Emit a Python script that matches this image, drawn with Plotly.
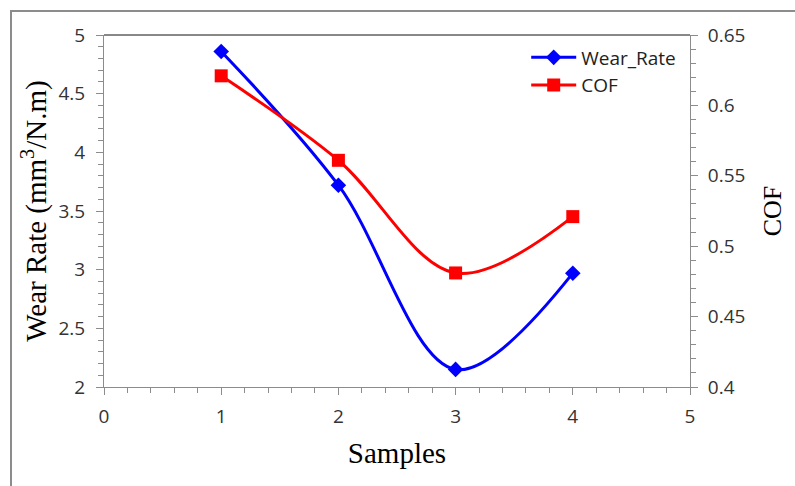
import plotly.graph_objects as go

samples = [1, 2, 3, 4]
wear_rate = [4.86, 3.72, 2.15, 2.97]
cof = [0.621, 0.561, 0.481, 0.521]

TICK_FONT = dict(family="Open Sans, Noto Sans, sans-serif", size=19, color="#333333")
TITLE_FONT = dict(family="Liberation Serif, Times New Roman, serif", size=29, color="black")
AXIS_GRAY = "#8c8c8c"

fig = go.Figure()

fig.add_trace(
    go.Scatter(
        x=samples,
        y=wear_rate,
        name="Wear_Rate",
        mode="lines+markers",
        line=dict(color="#0000ff", width=3, shape="spline", smoothing=1),
        marker=dict(symbol="diamond", size=12, color="#0000ff"),
    )
)
fig.add_trace(
    go.Scatter(
        x=samples,
        y=cof,
        name="COF",
        yaxis="y2",
        mode="lines+markers",
        line=dict(color="#ff0000", width=3, shape="spline", smoothing=1),
        marker=dict(symbol="square", size=13, color="#ff0000"),
    )
)

axis_common = dict(
    showgrid=False,
    zeroline=False,
    showline=True,
    linecolor=AXIS_GRAY,
    linewidth=1,
    ticks="outside",
    ticklen=7,
    tickcolor=AXIS_GRAY,
    tickfont=TICK_FONT,
)

fig.update_layout(
    width=795,
    height=486,
    plot_bgcolor="white",
    paper_bgcolor="white",
    margin=dict(l=104, r=105, t=35, b=99),
    xaxis=dict(
        **axis_common,
        range=[0, 5],
        dtick=1,
        ticklabelstandoff=5,
        minor=dict(dtick=0.2, ticks="outside", ticklen=5, tickcolor=AXIS_GRAY),
        title=dict(text="Samples", font=TITLE_FONT, standoff=14),
    ),
    yaxis=dict(
        **axis_common,
        range=[2, 5],
        dtick=0.5,
        ticklabelstandoff=7,
        minor=dict(dtick=0.1, ticks="outside", ticklen=5, tickcolor=AXIS_GRAY),
        title=dict(text="Wear Rate (mm<sup>3</sup>/N.m)", font=TITLE_FONT, standoff=3),
    ),
    yaxis2=dict(
        **axis_common,
        overlaying="y",
        side="right",
        range=[0.4, 0.65],
        dtick=0.05,
        ticklabelstandoff=6,
        minor=dict(dtick=0.01, ticks="outside", ticklen=5, tickcolor=AXIS_GRAY),
        title=dict(text="COF", font=dict(TITLE_FONT, size=26), standoff=18),
    ),
    legend=dict(
        x=0.985,
        y=0.99,
        xanchor="right",
        yanchor="top",
        bgcolor="rgba(0,0,0,0)",
        font=dict(family="Open Sans, Noto Sans, sans-serif", size=19, color="#222222"),
        itemwidth=45,
        tracegroupgap=2,
    ),
    showlegend=True,
    shapes=[
        # top border of the plot area
        dict(type="line", xref="paper", yref="paper", x0=0, x1=1, y0=1, y1=1,
             line=dict(color="#606060", width=1.5)),
        # outer chart frame
        dict(type="rect", xref="paper", yref="paper",
             x0=-0.1587, x1=1.19, y0=-0.3, y1=1.068,
             line=dict(color="#8c8c8c", width=2)),
    ],
)

fig.write_html(
    "out.html",
    config={"displayModeBar": False},
    post_script="document.body.style.margin='0';",
)
